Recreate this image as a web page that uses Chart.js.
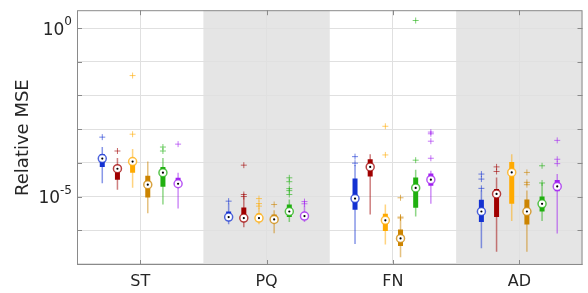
<!DOCTYPE html>
<html>
<head>
<meta charset="utf-8">
<script src="https://cdn.jsdelivr.net/npm/chart.js@4.4.1/dist/chart.umd.min.js"></script>
<style>
  html, body { margin: 0; padding: 0; background: #fff; }
  #wrap { width: 588px; height: 293px; }
</style>
</head>
<body>
<div id="wrap"><canvas id="chart"></canvas></div>
<script>
// categories and the shaded ones
const groups = ['ST', 'PQ', 'FN', 'AD'];
const shadedGroups = [1, 3];

// y axis
const yMin = 9.3e-8;
const yMax = 3.4;
const decadeTicks = [1e-7, 1e-6, 1e-5, 1e-4, 1e-3, 1e-2, 1e-1, 1e0];
const labelledTicks = [1e0, 1e-5];

// per group: [lower whisker, q1, median, q3, upper whisker]
const blueStats = [
  [2.5e-5, 7.6e-5, 1.34e-4, 1.8e-4, 2.95e-4],
  [1.5e-6, 2.1e-6, 2.46e-6, 3.6e-6, 6.2e-6],
  [3.9e-7, 4.07e-6, 8.7e-6, 3.45e-5, 8.7e-5],
  [2.9e-7, 1.75e-6, 3.6e-6, 8.0e-6, 1.5e-5]
];
const blueOutliers = [[5.8e-4], [7.3e-6], [1.53e-4, 9.8e-5], [4.65e-5, 3.3e-5, 1.75e-5]];

const redStats = [
  [1.6e-5, 3.16e-5, 6.7e-5, 7.6e-5, 1.4e-4],
  [1.23e-6, 1.88e-6, 2.3e-6, 4.75e-6, 9.3e-6],
  [2.95e-6, 3.95e-5, 7.6e-5, 1.28e-4, 1.8e-4],
  [2.3e-7, 2.46e-6, 1.2e-5, 1.68e-5, 3.7e-5]
];
const redOutliers = [[2.25e-4], [8.55e-5, 1.15e-5, 1.0e-5], [], [7.6e-5, 5.55e-5]];

const orangeStats = [
  [1.84e-5, 5.1e-5, 1.09e-4, 1.31e-4, 2.6e-4],
  [1.5e-6, 1.88e-6, 2.3e-6, 3.16e-6, 4.75e-6],
  [3.8e-7, 9.5e-7, 1.97e-6, 3.1e-6, 5.8e-6],
  [1.88e-6, 6.1e-6, 5.2e-5, 1.07e-4, 1.8e-4]
];
const orangeOutliers = [[3.9e-2, 7.1e-4], [8.7e-6, 6.2e-6, 5.2e-6], [1.22e-3, 1.72e-4], []];

const brownStats = [
  [3.2e-6, 9.3e-6, 2.25e-5, 4.15e-5, 1.1e-4],
  [8.2e-7, 1.64e-6, 2.1e-6, 2.95e-6, 3.9e-6],
  [1.57e-7, 3.4e-7, 5.7e-7, 1.05e-6, 2.2e-6],
  [2.3e-7, 1.47e-6, 3.6e-6, 8.2e-6, 1.5e-5]
];
const brownOutliers = [[], [5.8e-6], [9.2e-6, 2.46e-6, 2.3e-6], [5.2e-5, 2.64e-5, 2.25e-5]];

const greenStats = [
  [5.8e-6, 1.97e-5, 5.1e-5, 7.6e-5, 1.4e-4],
  [1.75e-6, 2.46e-6, 3.6e-6, 5.8e-6, 8.2e-6],
  [2.58e-6, 4.65e-6, 1.8e-5, 3.7e-5, 6.2e-5],
  [1.88e-6, 3.6e-6, 6.1e-6, 1.0e-5, 2.53e-5]
];
const greenOutliers = [[2.95e-4, 2.25e-4], [3.6e-5, 2.76e-5, 1.72e-5, 1.5e-5, 1.15e-5], [1.68, 1.2e-4], [8.2e-5, 2.53e-5]];

const purpleStats = [
  [4.4e-6, 2.3e-5, 2.4e-5, 3.6e-5, 5.1e-5],
  [1.75e-6, 2.2e-6, 2.64e-6, 3.45e-6, 5.4e-6],
  [6.1e-6, 2.1e-5, 3.16e-5, 4.85e-5, 5.8e-5],
  [8.0e-7, 1.43e-5, 2.0e-5, 3.1e-5, 4.65e-5]
];
const purpleOutliers = [[3.6e-4], [7.1e-6, 6.1e-6], [8.2e-4, 7.3e-4, 4.4e-4, 1.37e-4], [4.65e-4, 1.28e-4, 9.5e-5]];

const methods = [
  { stats: blueStats, outliers: blueOutliers, rgb: '20, 50, 210' },
  { stats: redStats, outliers: redOutliers, rgb: '160, 0, 0' },
  { stats: orangeStats, outliers: orangeOutliers, rgb: '255, 170, 0' },
  { stats: brownStats, outliers: brownOutliers, rgb: '204, 132, 0' },
  { stats: greenStats, outliers: greenOutliers, rgb: '32, 176, 16' },
  { stats: purpleStats, outliers: purpleOutliers, rgb: '160, 32, 240' }
];

const groupSpan = 0.72; // share of a category used by the six boxes
const slot = groupSpan / methods.length;

const datasets = [];
methods.forEach((m, k) => {
  const off = (k - (methods.length - 1) / 2) * slot;
  // whisker: thin floating bar
  datasets.push({
    type: 'bar', xAxisID: 'xp', order: 4, grouped: false,
    data: m.stats.map((s, g) => ({ x: g + off, y: [s[0], s[4]] })),
    backgroundColor: `rgba(${m.rgb}, 0.5)`,
    barPercentage: 0.1, categoryPercentage: 1
  });
  // box: q1..q3
  datasets.push({
    type: 'bar', xAxisID: 'xp', order: 3, grouped: false,
    data: m.stats.map((s, g) => ({ x: g + off, y: [s[1], s[3]] })),
    backgroundColor: `rgb(${m.rgb})`,
    barPercentage: 0.33, categoryPercentage: 1
  });
  const outPts = [];
  m.outliers.forEach((list, g) => list.forEach(v => outPts.push({ x: g + off, y: v })));
  datasets.push({
    type: 'scatter', xAxisID: 'xp', order: 2,
    data: outPts,
    pointStyle: 'cross', pointRadius: 3, pointBorderWidth: 1,
    borderColor: `rgba(${m.rgb}, 0.6)`, backgroundColor: `rgba(${m.rgb}, 0.6)`
  });
  // median ring + dot
  datasets.push({
    type: 'scatter', xAxisID: 'xp', order: 1,
    data: m.stats.map((s, g) => ({ x: g + off, y: s[2] })),
    pointStyle: 'circle', pointRadius: 4, pointBorderWidth: 1.5,
    borderColor: `rgba(${m.rgb}, 0.75)`, backgroundColor: '#ffffff'
  });
  datasets.push({
    type: 'scatter', xAxisID: 'xp', order: 0,
    data: m.stats.map((s, g) => ({ x: g + off, y: s[2] })),
    pointStyle: 'circle', pointRadius: 1.1, pointBorderWidth: 0,
    backgroundColor: '#000000'
  });
});

const frameColor = '#8a8a8a';
const textColor = '#262626';

const decorPlugin = {
  id: 'decor',
  beforeDraw(chart) {
    const { ctx, chartArea: a, scales: { x } } = chart;
    const half = (x.getPixelForValue(1) - x.getPixelForValue(0)) / 2;
    ctx.save();
    ctx.fillStyle = '#e5e5e5';
    shadedGroups.forEach(i => {
      const c = x.getPixelForValue(i);
      ctx.fillRect(c - half, a.top, half * 2, a.bottom - a.top);
    });
    ctx.restore();
  },
  afterDraw(chart) {
    const { ctx, chartArea: a, scales: { x, y } } = chart;
    ctx.save();
    ctx.strokeStyle = frameColor;
    ctx.lineWidth = 1;
    ctx.strokeRect(a.left + 0.5, a.top + 0.5, a.right - a.left - 1, a.bottom - a.top - 1);
    ctx.beginPath();
    groups.forEach((g, i) => {
      const px = Math.round(x.getPixelForValue(i)) + 0.5;
      ctx.moveTo(px, a.top); ctx.lineTo(px, a.top + 5);
      ctx.moveTo(px, a.bottom); ctx.lineTo(px, a.bottom - 5);
    });
    decadeTicks.forEach(v => {
      const py = Math.round(y.getPixelForValue(v)) + 0.5;
      ctx.moveTo(a.left, py); ctx.lineTo(a.left + 5, py);
      ctx.moveTo(a.right, py); ctx.lineTo(a.right - 5, py);
    });
    ctx.stroke();

    // y tick labels with superscript exponents
    ctx.fillStyle = textColor;
    ctx.textBaseline = 'middle';
    ctx.textAlign = 'right';
    labelledTicks.forEach(v => {
      const py = y.getPixelForValue(v);
      const exp = String(Math.round(Math.log10(v)));
      ctx.font = '12px "DejaVu Sans"';
      const ew = ctx.measureText(exp).width;
      ctx.fillText(exp, 72, py - 6);
      ctx.font = '17px "DejaVu Sans"';
      ctx.fillText('10', 72 - ew, py + 2);
    });
    ctx.restore();
  }
};

new Chart(document.getElementById('chart'), {
  type: 'bar',
  data: { labels: groups, datasets: datasets },
  options: {
    responsive: true,
    maintainAspectRatio: false,
    animation: false,
    layout: { padding: { top: 8, right: 3, left: 0, bottom: 0 } },
    plugins: { legend: { display: false }, tooltip: { enabled: false } },
    scales: {
      x: {
        type: 'category',
        offset: true,
        grid: { offset: false, color: '#e0e0e0', drawTicks: false },
        border: { display: false },
        ticks: { color: textColor, font: { family: 'DejaVu Sans', size: 16 }, padding: 7 },
        afterFit: s => { s.height = 28; }
      },
      xp: {
        type: 'linear', axis: 'x', position: 'bottom', display: false,
        offset: false, min: -0.5, max: groups.length - 0.5
      },
      y: {
        type: 'logarithmic',
        stacked: false,
        min: yMin, max: yMax,
        afterBuildTicks: s => { s.ticks = decadeTicks.map(v => ({ value: v })); },
        grid: { color: '#e0e0e0', drawTicks: false },
        border: { display: false },
        ticks: { autoSkip: false, callback: () => '' },
        title: {
          display: true, text: 'Relative MSE', color: textColor,
          font: { family: 'DejaVu Sans', size: 18 }, padding: { top: 13, bottom: 0 }
        },
        afterFit: s => { s.width = 77; }
      }
    }
  },
  plugins: [decorPlugin]
});
</script>
</body>
</html>
